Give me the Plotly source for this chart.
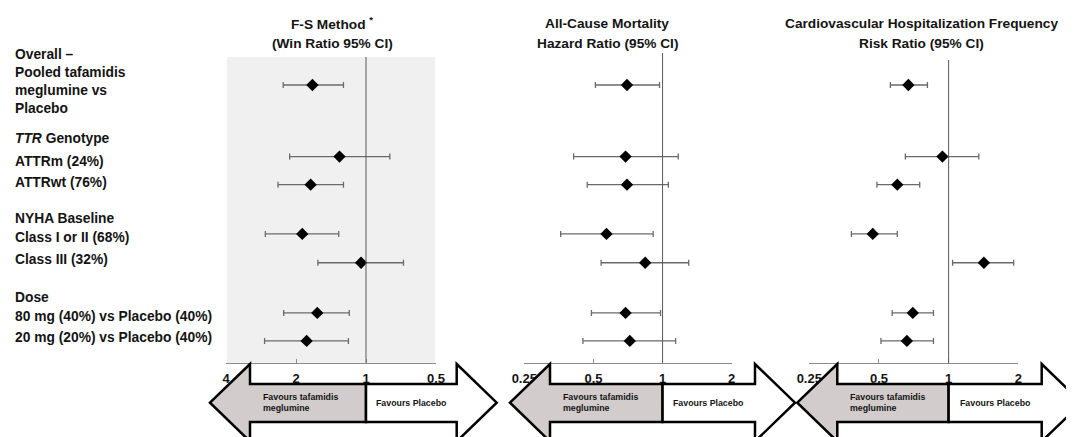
import plotly.graph_objects as go
import math

# The page body adds an 8px margin, so the figure is drawn 8px smaller and all
# layout positions (given in window pixels) are shifted by that offset.
OFF = 8
WIN_W, WIN_H = 1074, 437
W, H = WIN_W - OFF, WIN_H - OFF

# ---------------- data ----------------
row_names = ["Overall", "ATTRm (24%)", "ATTRwt (76%)", "Class I or II (68%)",
             "Class III (32%)", "80 mg (40%) vs Placebo (40%)", "20 mg (20%) vs Placebo (40%)"]

fs_est = [1.70, 1.30, 1.73, 1.88, 1.05, 1.62, 1.80]
fs_low = [1.25, 0.79, 1.25, 1.31, 0.69, 1.18, 1.19]
fs_high = [2.27, 2.13, 2.39, 2.71, 1.61, 2.26, 2.73]

acm_est = [0.70, 0.69, 0.70, 0.57, 0.84, 0.69, 0.72]
acm_low = [0.51, 0.41, 0.47, 0.36, 0.54, 0.49, 0.45]
acm_high = [0.97, 1.17, 1.06, 0.91, 1.30, 0.98, 1.14]

cvh_est = [0.67, 0.94, 0.60, 0.47, 1.42, 0.70, 0.66]
cvh_low = [0.56, 0.65, 0.49, 0.38, 1.04, 0.57, 0.51]
cvh_high = [0.81, 1.35, 0.75, 0.60, 1.91, 0.86, 0.86]

fs_ticks = [4, 2, 1, 0.5]
fs_ticklabels = ["4", "2", "1", "0.5"]
ratio_ticks = [0.25, 0.5, 1, 2]
ratio_ticklabels = ["0.25", "0.5", "1", "2"]

# ---------------- layout helpers ----------------
row_slots = [0, 2.53, 3.52, 5.26, 6.28, 8.05, 9.04]  # vertical slot of each row


def px(x):
    return (x - OFF) / W


def py(y):
    return 1 - (y - OFF) / H


AXIS_Y = 362.7
TOP_Y = 53
ydom = [py(AXIS_Y), py(TOP_Y)]

panels = [
    dict(est=fs_est, low=fs_low, high=fs_high, dom=(226, 436), rng=[math.log10(4), math.log10(0.5)],
         tv=fs_ticks, tt=fs_ticklabels, vtop=57, arrow=(250, 456.7),
         title=["F-S Method <sup>*</sup>", "(Win Ratio 95% CI)"], tx=332),
    dict(est=acm_est, low=acm_low, high=acm_high, dom=(524.3, 731.7), rng=[math.log10(0.25), math.log10(2)],
         tv=ratio_ticks, tt=ratio_ticklabels, vtop=53, arrow=(550, 755),
         title=["All-Cause Mortality", "Hazard Ratio (95% CI)"], tx=607),
    dict(est=cvh_est, low=cvh_low, high=cvh_high, dom=(809.3, 1018.3), rng=[math.log10(0.25), math.log10(2)],
         tv=ratio_ticks, tt=ratio_ticklabels, vtop=60, arrow=(837.3, 1041.7),
         title=["Cardiovascular Hospitalization Frequency", "Risk Ratio (95% CI)"], tx=921.5),
]

FONT = "Liberation Sans, Arial, Helvetica, sans-serif"
TXT = "#141414"

fig = go.Figure()
shapes = []
annotations = []

# shaded background for first panel
shapes.append(dict(type="rect", xref="paper", yref="paper", x0=px(227), x1=px(435),
                   y0=py(AXIS_Y), y1=py(57), fillcolor="#f0f0f0", line=dict(width=0),
                   layer="below"))


def P(pts):
    return "M " + " L ".join(f"{px(a):.5f},{py(b):.5f}" for a, b in pts) + " Z"


for i, p in enumerate(panels):
    xa = "x" if i == 0 else f"x{i+1}"
    axname = "xaxis" if i == 0 else f"xaxis{i+1}"
    fig.add_trace(go.Scatter(
        x=p["est"], y=row_slots, xaxis=xa, yaxis="y", mode="markers",
        marker=dict(symbol="diamond", size=9.5, color="black"),
        error_x=dict(type="data", symmetric=False,
                     array=[h - e for h, e in zip(p["high"], p["est"])],
                     arrayminus=[e - l for e, l in zip(p["est"], p["low"])],
                     color="#6a6a6a", thickness=1.3, width=3),
        showlegend=False, hoverinfo="skip"))
    fig.update_layout(**{axname: dict(
        type="log", domain=[px(p["dom"][0]), px(p["dom"][1])], range=p["rng"],
        anchor="y", automargin=False, showgrid=False, zeroline=False, showline=True,
        linecolor="#8a8a8a", linewidth=1, ticks="inside", ticklen=4, tickcolor="#8a8a8a",
        tickvals=p["tv"], ticktext=p["tt"], ticklabelstandoff=4,
        tickfont=dict(family=FONT, size=13, color=TXT, weight="bold"))})

    # reference line at 1
    shapes.append(dict(type="line", xref=xa, yref="paper", x0=1, x1=1,
                       y0=py(AXIS_Y), y1=py(p["vtop"]), line=dict(color="#5a5a5a", width=1)))

    # titles
    for t, ty in zip(p["title"], [23, 43.8]):
        annotations.append(dict(xref="paper", yref="paper", x=px(p["tx"]), y=py(ty),
                                text=f"<b>{t}</b>", showarrow=False, xanchor="center",
                                yanchor="middle",
                                font=dict(family=FONT, size=13.7, color=TXT)))

    # double arrow
    xL, xR = p["arrow"]
    r0, r1 = p["rng"]
    d0, d1 = p["dom"]
    xD = d0 + (0 - r0) / (r1 - r0) * (d1 - d0)
    bt, bb = 384, 422
    ht, hb, hc = 364, 441.4, 402.7
    tip = 40

    left = [(xL - tip, hc), (xL, ht), (xL, bt), (xD, bt), (xD, bb), (xL, bb), (xL, hb)]
    right = [(xD, bt), (xR, bt), (xR, ht), (xR + tip, hc), (xR, hb), (xR, bb), (xD, bb)]
    shapes.append(dict(type="path", xref="paper", yref="paper", path=P(left),
                       fillcolor="#d3cccc", line=dict(color="black", width=2.5)))
    shapes.append(dict(type="path", xref="paper", yref="paper", path=P(right),
                       fillcolor="white", line=dict(color="black", width=2.5)))

    annotations.append(dict(xref="paper", yref="paper", x=px(xL + 11), y=py(402),
                            text="<b>Favours tafamidis<br>meglumine</b>", showarrow=False,
                            xanchor="left", yanchor="middle", align="left",
                            font=dict(family=FONT, size=8.8, color=TXT)))
    annotations.append(dict(xref="paper", yref="paper", x=px((xD + xR) / 2), y=py(402.5),
                            text="<b>Favours Placebo</b>", showarrow=False,
                            xanchor="center", yanchor="middle",
                            font=dict(family=FONT, size=8.8, color=TXT)))

# left row labels
left_labels = [
    ("<b>Overall –<br>Pooled tafamidis<br>meglumine vs<br>Placebo</b>", 82),
    ("<b><i>TTR</i> Genotype</b>", 138.3),
    ("<b>" + row_names[1] + "</b>", 161),
    ("<b>" + row_names[2] + "</b>", 182.7),
    ("<b>NYHA Baseline</b>", 218.3),
    ("<b>" + row_names[3] + "</b>", 237.3),
    ("<b>" + row_names[4] + "</b>", 259.3),
    ("<b>Dose</b>", 297.3),
    ("<b>" + row_names[5] + "</b>", 316.7),
    ("<b>" + row_names[6] + "</b>", 337.3),
]
for t, ty in left_labels:
    annotations.append(dict(xref="paper", yref="paper", x=px(12.5), y=py(ty), text=t,
                            showarrow=False, xanchor="left", yanchor="middle", align="left",
                            font=dict(family=FONT, size=13.8, color=TXT)))

fig.update_layout(
    width=W, height=H, margin=dict(l=0, r=0, t=0, b=0, pad=0, autoexpand=False),
    paper_bgcolor="white", plot_bgcolor="rgba(0,0,0,0)",
    yaxis=dict(domain=ydom, range=[9.81, -1.13], showgrid=False, zeroline=False,
               showticklabels=False, showline=False, ticks="", automargin=False),
    shapes=shapes, annotations=annotations, showlegend=False, hovermode=False,
)

fig.write_html("out.html")
